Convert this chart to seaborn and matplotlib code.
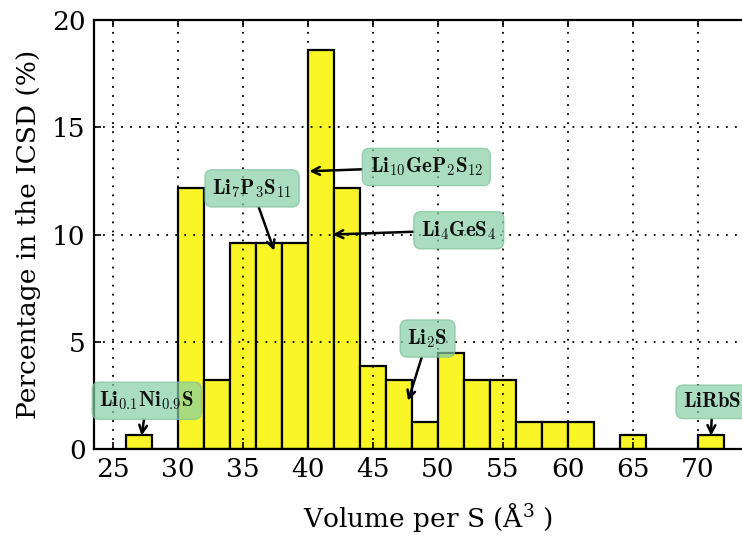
import matplotlib
matplotlib.use("Agg")
import matplotlib.pyplot as plt
import seaborn as sns

# Histogram of volume per sulfur atom for Li-S compounds in the ICSD
bin_start = [26, 28, 30, 32, 34, 36, 38, 40, 42, 44, 46, 48,
             50, 52, 54, 56, 58, 60, 62, 64, 66, 68, 70]
percent = [0.64, 0.0, 12.18, 3.21, 9.62, 9.62, 9.62, 18.59, 12.18, 3.85, 3.21, 1.28,
           4.49, 3.21, 3.21, 1.28, 1.28, 1.28, 0.0, 0.64, 0.0, 0.0, 0.64]
bin_width = 2

x_ticks = [25, 30, 35, 40, 45, 50, 55, 60, 65, 70]
y_ticks = [0, 5, 10, 15, 20]

# Labelled compounds: label, text position, arrow target
compounds = [r"$\mathbf{Li_{0.1}Ni_{0.9}S}$", r"$\mathbf{Li_7P_3S_{11}}$",
             r"$\mathbf{Li_{10}GeP_2S_{12}}$", r"$\mathbf{Li_4GeS_4}$",
             r"$\mathbf{Li_2S}$", r"$\mathbf{LiRbS}$"]
label_x = [27.6, 35.7, 49.1, 51.6, 49.2, 71.1]
label_y = [2.25, 12.15, 13.15, 10.2, 5.15, 2.2]
target_x = [27.2, 37.4, 40.1, 41.9, 47.7, 71.0]
target_y = [0.62, 9.25, 12.95, 10.0, 2.25, 0.62]

plt.rcParams["font.family"] = ["DejaVu Serif"]
plt.rcParams["mathtext.fontset"] = "dejavuserif"

fig = plt.figure(figsize=(7.42, 5.38), dpi=100)
ax = fig.add_axes([0.1267, 0.1654, 0.9016, 0.7974])

centers = [s + bin_width / 2 for s in bin_start]
sns.histplot(x=centers, weights=percent, binwidth=bin_width,
             binrange=(bin_start[0], bin_start[-1] + bin_width),
             color="#f9f526", edgecolor="black", linewidth=1.6, alpha=1.0,
             ax=ax, zorder=1)

ax.set_xlim(23.54, 75)
ax.set_ylim(0, 20)
ax.set_xticks(x_ticks)
ax.set_yticks(y_ticks)
ax.set_axisbelow(False)
ax.grid(True, color="black", linestyle=(0, (1, 4)), linewidth=1.3)
ax.tick_params(direction="in", length=5, width=1.2, top=True, right=True,
               labelsize=19, colors="black", pad=6)
for sp in ax.spines.values():
    sp.set_linewidth(1.6)
    sp.set_color("black")

ax.set_xlabel(r"Volume per S ($\mathregular{\AA}^3$ )", fontsize=19, labelpad=13)
ax.set_ylabel("Percentage in the ICSD (%)", fontsize=19, labelpad=8)

box = dict(boxstyle="round,pad=0.35", facecolor="#86cfa4", edgecolor="#7cc29a",
           alpha=0.7, linewidth=1)
for lab, lx, ly, tx, ty in zip(compounds, label_x, label_y, target_x, target_y):
    ax.annotate(lab, xy=(tx, ty), xytext=(lx, ly), ha="center", va="center",
                fontsize=15, color="#111111", bbox=box, zorder=5,
                math_fontfamily="cm",
                arrowprops=dict(arrowstyle="->", color="black", lw=1.8,
                                mutation_scale=14, shrinkA=0, shrinkB=0))

fig.savefig("out.png", dpi=100)
